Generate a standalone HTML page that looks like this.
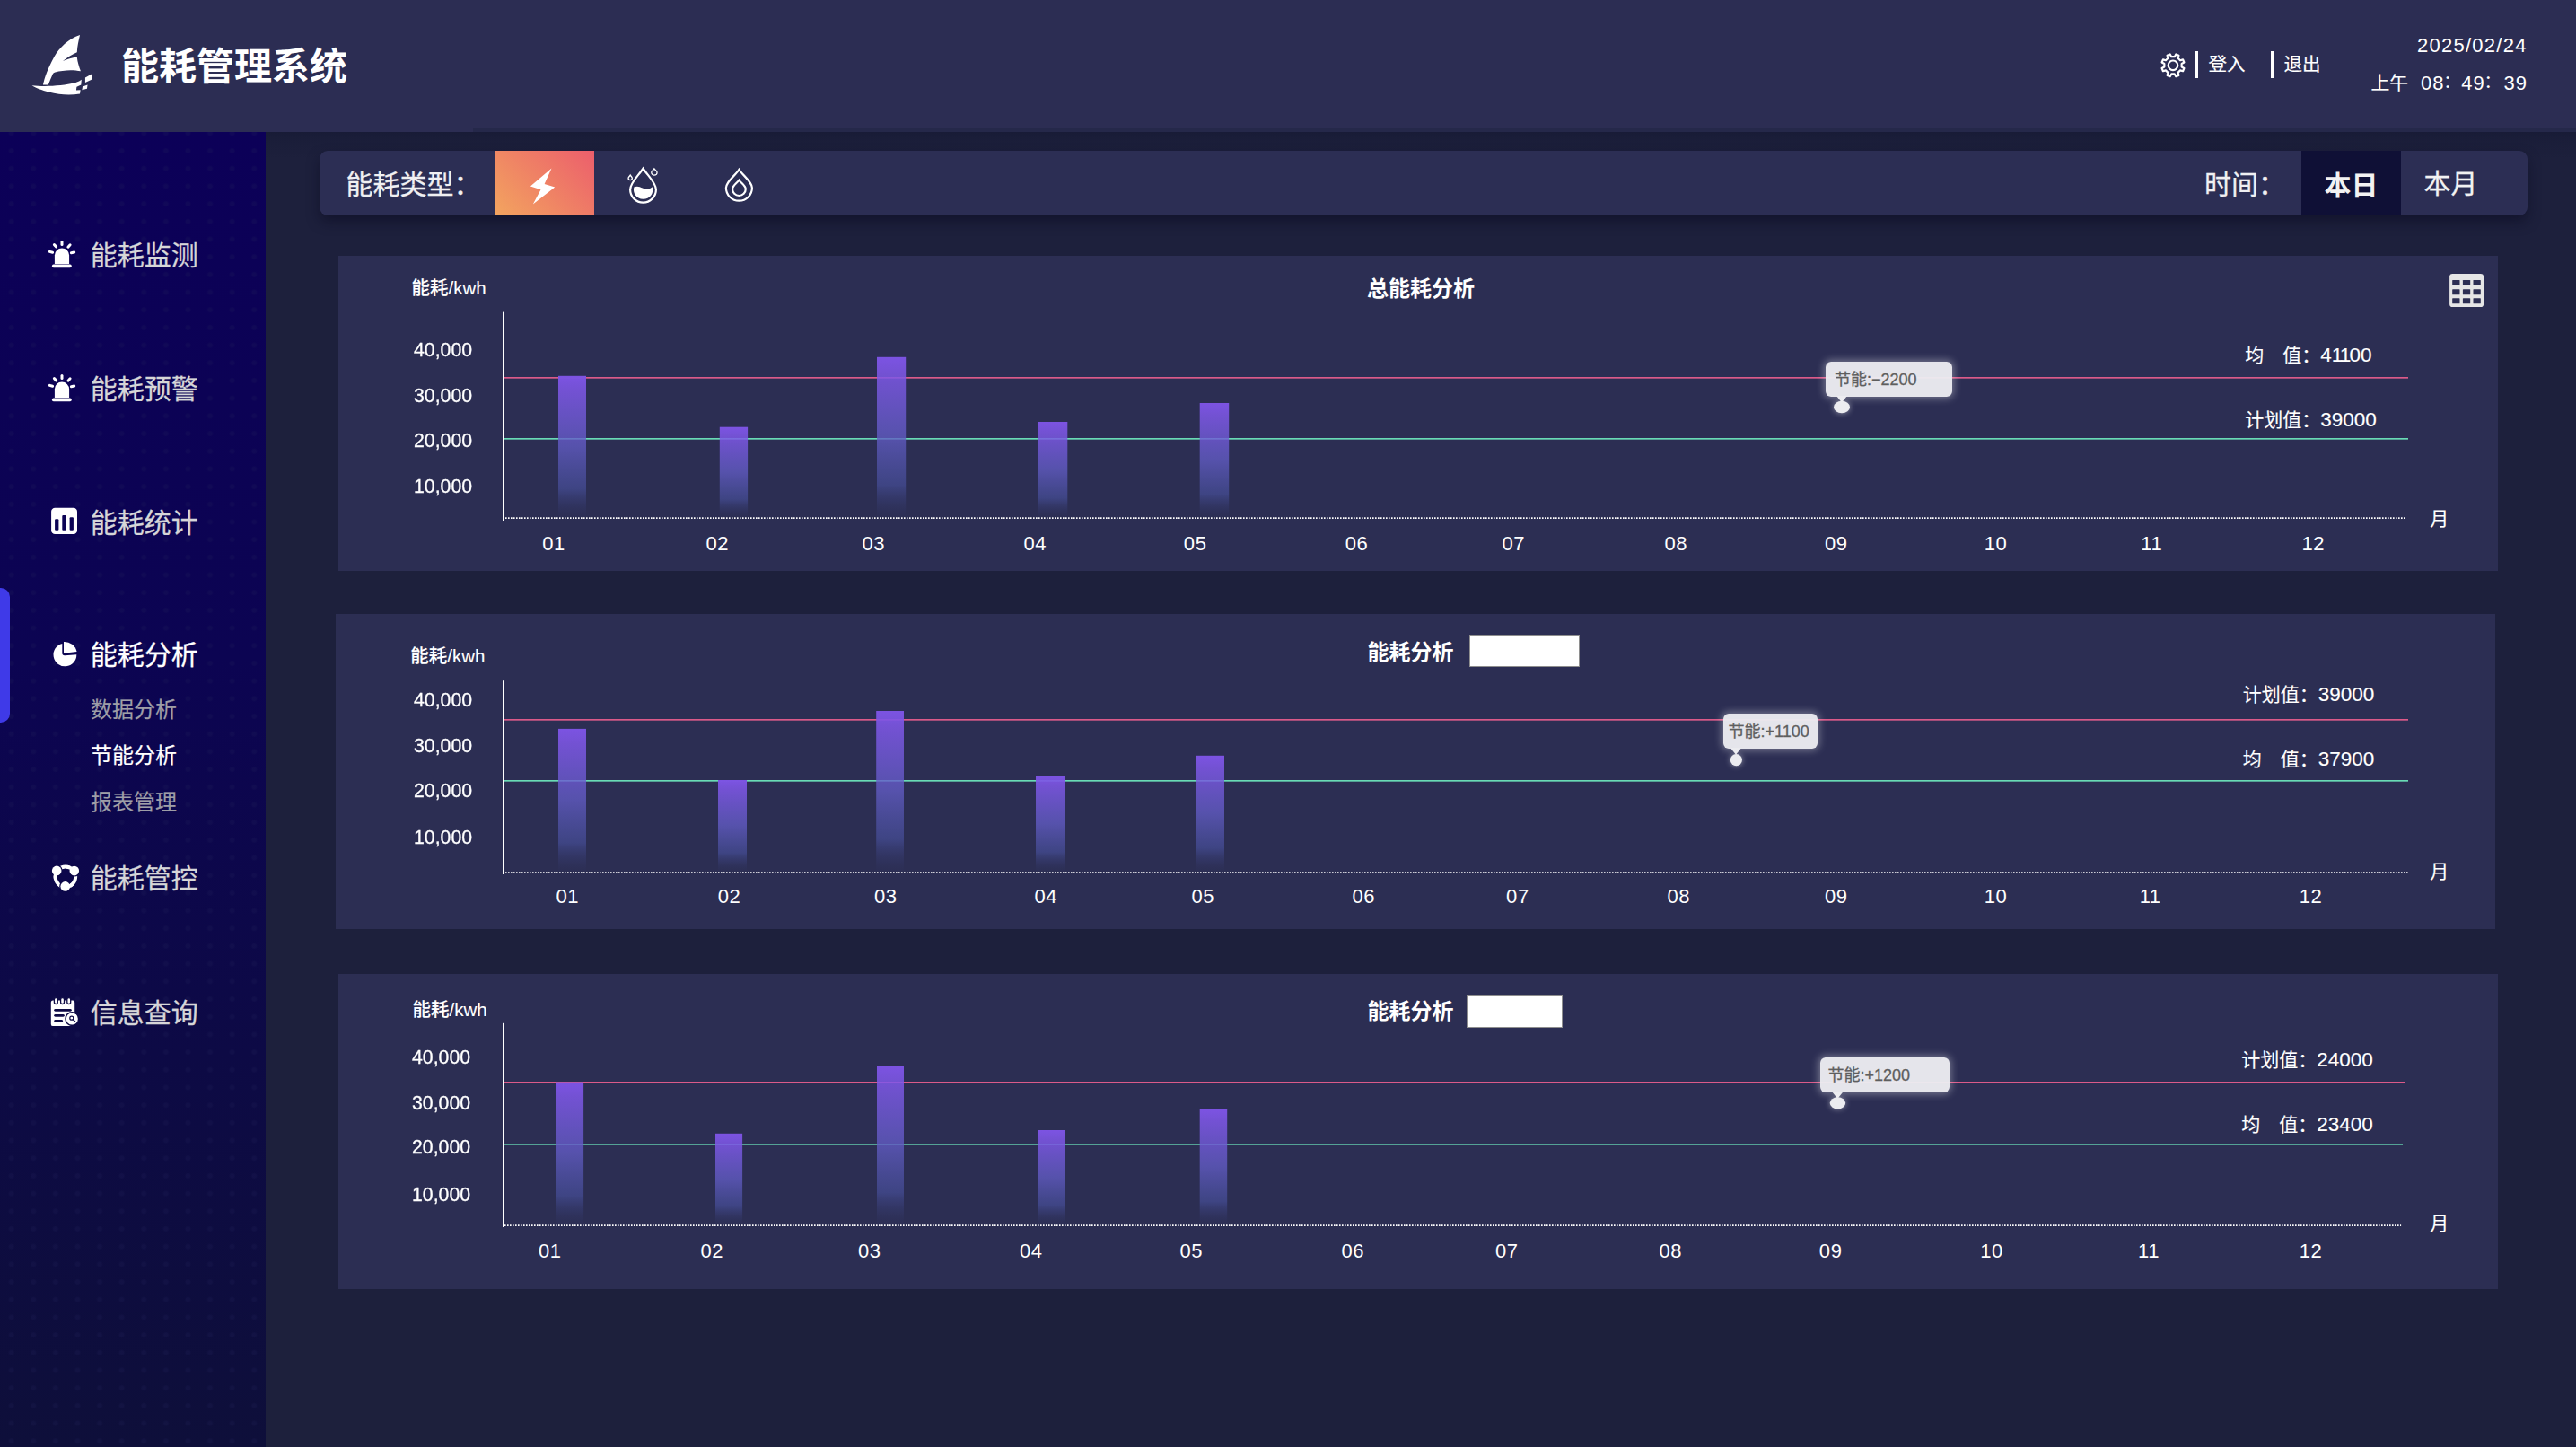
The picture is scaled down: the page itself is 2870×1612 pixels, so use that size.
<!DOCTYPE html>
<html lang="zh-CN">
<head>
<meta charset="utf-8">
<title>能耗管理系统</title>
<style>
html,body{margin:0;padding:0;}
body{width:2870px;height:1612px;position:relative;overflow:hidden;background:#1d203c;font-family:"Liberation Sans","Noto Sans CJK SC",sans-serif;}
.t{position:absolute;white-space:nowrap;margin:0;padding:0;}
.abs{position:absolute;}
#hdr{position:absolute;left:0;top:0;width:2870px;height:147px;background:#2c2d53;}
#hstrip{position:absolute;left:527px;top:143.3px;width:2343px;height:3.7px;background:#25284a;}
#hshadow{position:absolute;left:296px;top:147px;width:2574px;height:30px;background:linear-gradient(180deg,rgba(14,18,44,.34) 0,rgba(14,18,44,.16) 35%,rgba(14,18,44,0) 100%);}
#side{position:absolute;left:0;top:147px;width:296px;height:1465px;background:linear-gradient(180deg,#0c0058 0%,#0c0452 40%,#0d0a45 70%,#0e0f3a 100%);overflow:hidden;}
#dots{position:absolute;left:0;top:0;width:296px;height:1465px;opacity:.22;background-image:radial-gradient(circle,#23245c 0,#23245c 2.2px,rgba(35,36,92,0) 3.6px);background-size:24.6px 19.7px;background-position:0.4px -8.5px;}
#act{position:absolute;left:0;top:655px;width:11px;height:150px;background:#3f3ae8;border-radius:0 10px 10px 0;}
#fbar{position:absolute;left:356px;top:168px;width:2460px;height:72px;background:#2c2e54;border-radius:9px;box-shadow:0 7px 14px 0 rgba(10,10,32,.5);}
#fon{position:absolute;left:551px;top:168px;width:111px;height:72px;background:linear-gradient(45deg,#f3a55f 0%,#ef8165 50%,#ec5e6c 100%);}
#today{position:absolute;left:2564px;top:168px;width:111px;height:72px;background:#0f1036;}
.panel{position:absolute;background:#2c2e53;}
svg{position:absolute;overflow:visible;}
.tip{position:absolute;background:rgba(236,236,240,.965);border-radius:6px;box-shadow:0 0 9px 2px rgba(255,255,255,.35);}
.n{font-size:22.5px;}
.fc{font-size:19px;letter-spacing:0;position:relative;top:-1.3px;left:-1px;}
.k{letter-spacing:-1.8px;}
.wbox{position:absolute;background:#fff;border:1px solid #8e8e8e;box-sizing:border-box;}
</style>
</head>
<body>

<div id="hdr"></div><div id="hstrip"></div><div id="hshadow"></div>
<svg style="left:25px;top:30px" width="90" height="85" viewBox="0 0 1532 1447">
<path fill="#fff" d="M1090 155 C1065 260 1040 370 1035 480 C940 520 850 580 765 645 C850 610 940 585 1035 575 C1045 670 1075 760 1105 840 C950 805 760 820 620 860 C590 870 580 885 575 895 C545 960 515 1030 490 1100 L390 1100 C420 960 480 790 600 570 C700 400 880 215 1090 155 Z"/>
<path fill="#fff" d="M180 1110 C420 1135 760 1120 1000 1060 C1060 1040 1100 1015 1120 1000 L1112 1100 L1028 1135 L1020 1200 L1100 1195 L1090 1270 C900 1300 700 1290 500 1235 C370 1200 250 1155 180 1110 Z"/>
<path fill="#fff" d="M1190 960 L1320 890 L1310 1000 L1190 1055 Z"/>
<path fill="#fff" d="M1140 1130 L1235 1100 L1225 1170 L1130 1195 Z"/>
</svg>
<div class="t" style="top:49.5px;font-size:42px;line-height:50px;color:#fff;font-weight:700;left:135.0px;">能耗管理系统</div>
<svg style="left:2400px;top:52px" width="42" height="42" viewBox="0 0 42 42">
<path d="M30.58 18.74 L33.69 19.10 L33.69 22.50 L30.58 22.86 L29.23 26.12 L31.18 28.57 L28.77 30.98 L26.32 29.03 L23.06 30.38 L22.70 33.49 L19.30 33.49 L18.94 30.38 L15.68 29.03 L13.23 30.98 L10.82 28.57 L12.77 26.12 L11.42 22.86 L8.31 22.50 L8.31 19.10 L11.42 18.74 L12.77 15.48 L10.82 13.03 L13.23 10.62 L15.68 12.57 L18.94 11.22 L19.30 8.11 L22.70 8.11 L23.06 11.22 L26.32 12.57 L28.77 10.62 L31.18 13.03 L29.23 15.48Z" fill="none" stroke="#fff" stroke-width="2.2" stroke-linejoin="round" transform="rotate(22.5 21 20.8)"/>
<circle cx="21" cy="20.8" r="5.3" fill="none" stroke="#fff" stroke-width="2.2"/>
</svg>
<div class="abs" style="left:2446px;top:57px;width:3px;height:30px;background:#fff"></div>
<div class="t" style="top:59.2px;font-size:20.5px;line-height:25px;color:#fff;-webkit-text-stroke:0.2px #fff;left:2460.5px;">登入</div>
<div class="abs" style="left:2530px;top:57px;width:3px;height:30px;background:#fff"></div>
<div class="t" style="top:59.2px;font-size:20.5px;line-height:25px;color:#fff;-webkit-text-stroke:0.2px #fff;left:2544.5px;">退出</div>
<div class="t" style="top:38.2px;font-size:22px;line-height:26px;color:#fff;letter-spacing:1.27px;left:2215.7px;width:600px;text-align:right;">2025/02/24</div>
<div class="t" style="top:80.0px;font-size:20.8px;line-height:25px;color:#fff;-webkit-text-stroke:0.15px #fff;left:2641.5px;">上午</div>
<div class="t" style="top:79.5px;font-size:22px;line-height:26px;color:#fff;letter-spacing:0.9px;left:2697.0px;">08<span class="fc">：</span></div>
<div class="t" style="top:79.5px;font-size:22px;line-height:26px;color:#fff;letter-spacing:0.9px;left:2742.3px;">49<span class="fc">：</span></div>
<div class="t" style="top:79.5px;font-size:22px;line-height:26px;color:#fff;letter-spacing:0.9px;left:2789.5px;">39</div>
<div id="side"><div id="dots"></div></div>
<div id="act"></div>
<svg style="left:45px;top:255px" width="60" height="55" viewBox="0 0 60 55">
<path fill="#fff" d="M15.9 38.9 V29.6 a8.1 8.1 0 0 1 16.2 0 V38.9 Z"/>
<rect x="12.9" y="39.6" width="21.9" height="3.6" rx="1.8" fill="#fff"/>
<g stroke="#fff" stroke-width="3" stroke-linecap="round">
<line x1="24" y1="14.5" x2="24" y2="17.6"/>
<line x1="15.4" y1="17.6" x2="17.6" y2="19.9"/>
<line x1="33.1" y1="17.8" x2="30.9" y2="20.2"/>
<line x1="10.4" y1="25.4" x2="13.6" y2="26.3"/>
<line x1="37.7" y1="26" x2="34.4" y2="26.7"/>
</g></svg>
<div class="t" style="top:267.2px;font-size:30px;line-height:36px;color:#d6d6d8;-webkit-text-stroke:0.28px #d6d6d8;left:100.8px;">能耗监测</div>
<svg style="left:45px;top:404px" width="60" height="55" viewBox="0 0 60 55">
<path fill="#fff" d="M15.9 38.9 V29.6 a8.1 8.1 0 0 1 16.2 0 V38.9 Z"/>
<rect x="12.9" y="39.6" width="21.9" height="3.6" rx="1.8" fill="#fff"/>
<g stroke="#fff" stroke-width="3" stroke-linecap="round">
<line x1="24" y1="14.5" x2="24" y2="17.6"/>
<line x1="15.4" y1="17.6" x2="17.6" y2="19.9"/>
<line x1="33.1" y1="17.8" x2="30.9" y2="20.2"/>
<line x1="10.4" y1="25.4" x2="13.6" y2="26.3"/>
<line x1="37.7" y1="26" x2="34.4" y2="26.7"/>
</g></svg>
<div class="t" style="top:416.0px;font-size:30px;line-height:36px;color:#d6d6d8;-webkit-text-stroke:0.28px #d6d6d8;left:100.8px;">能耗预警</div>
<svg style="left:45px;top:555px" width="60" height="55" viewBox="0 0 60 55">
<rect x="12.1" y="10.8" width="28.9" height="29.3" rx="4.2" fill="#fff"/>
<g fill="#0c0355">
<rect x="16.1" y="23.3" width="4.3" height="12.5" rx="1"/>
<rect x="24.3" y="19.1" width="4.3" height="16.7" rx="1"/>
<rect x="32.6" y="21.2" width="4.3" height="14.6" rx="1"/>
</g></svg>
<div class="t" style="top:565.3px;font-size:30px;line-height:36px;color:#d6d6d8;-webkit-text-stroke:0.28px #d6d6d8;left:100.8px;">能耗统计</div>
<svg style="left:45px;top:700px" width="60" height="55" viewBox="0 0 60 55">
<path fill="#fff" d="M24.3 16.9 A12.9 12.9 0 1 0 40.3 29.2 L27.2 30.2 Q24.3 30.3 24.3 27.6 Z"/>
<path fill="#fff" d="M26 15 A14.2 14.2 0 0 1 40.6 25.9 L26 27.8 Z"/>
</svg>
<div class="t" style="top:712.3px;font-size:30px;line-height:36px;color:#fff;-webkit-text-stroke:0.28px #fff;left:100.8px;">能耗分析</div>
<div class="t" style="top:775.8px;font-size:24px;line-height:29px;color:#9e9ea7;-webkit-text-stroke:0.2px #9e9ea7;left:100.9px;">数据分析</div>
<div class="t" style="top:826.8px;font-size:24px;line-height:29px;color:#fff;-webkit-text-stroke:0.2px #fff;left:100.9px;">节能分析</div>
<div class="t" style="top:878.8px;font-size:24px;line-height:29px;color:#9e9ea7;-webkit-text-stroke:0.2px #9e9ea7;left:100.9px;">报表管理</div>
<svg style="left:45px;top:950px" width="60" height="55" viewBox="0 0 60 55"><circle cx="27.9" cy="26.8" r="11.3" fill="none" stroke="#fff" stroke-width="3.9"/><circle cx="18.2" cy="19.9" r="6.5" fill="#0d0848"/><circle cx="37.8" cy="20.1" r="6.5" fill="#0d0848"/><circle cx="27.7" cy="37.4" r="6.5" fill="#0d0848"/><circle cx="18.2" cy="19.9" r="5.3" fill="#fff"/><path d="M16.87 29.26 A11.3 11.3 0 0 1 18.69 20.25" fill="none" stroke="#fff" stroke-width="3.9"/><circle cx="37.8" cy="20.1" r="5.3" fill="#fff"/><path d="M29.46 15.61 A11.3 11.3 0 0 1 37.26 20.47" fill="none" stroke="#fff" stroke-width="3.9"/><circle cx="27.7" cy="37.4" r="5.3" fill="#fff"/><path d="M36.15 34.52 A11.3 11.3 0 0 1 27.69 38.10" fill="none" stroke="#fff" stroke-width="3.9"/></svg>
<div class="t" style="top:960.8px;font-size:30px;line-height:36px;color:#d6d6d8;-webkit-text-stroke:0.28px #d6d6d8;left:100.8px;">能耗管控</div>
<svg style="left:45px;top:1100px" width="60" height="55" viewBox="0 0 60 55">
<rect x="11.8" y="14.6" width="26.4" height="28.5" rx="2.2" fill="#fff"/>
<g fill="#fff" stroke="#0e0a45" stroke-width="1.3">
<rect x="15.4" y="11.6" width="3.9" height="6.9" rx="1.95"/>
<rect x="22.6" y="11.6" width="3.9" height="6.9" rx="1.95"/>
<rect x="29.8" y="11.6" width="3.9" height="6.9" rx="1.95"/>
</g>
<g stroke="#0e0a45" stroke-width="2.7" stroke-linecap="round">
<line x1="16.6" y1="25.3" x2="33.4" y2="25.3"/>
<line x1="16.6" y1="31.3" x2="25.4" y2="31.3"/>
<line x1="16.6" y1="37.4" x2="23.7" y2="37.4"/>
</g>
<path d="M35.3 35 L39 35 L39 44 L33 44 Z" fill="#0e0a46"/>
<circle cx="35.3" cy="35" r="7.3" fill="#fff" stroke="#0e0a45" stroke-width="1.5"/>
<circle cx="34.8" cy="34.2" r="2" fill="none" stroke="#0e0a45" stroke-width="1.2"/>
<line x1="36.3" y1="35.7" x2="38.7" y2="38" stroke="#0e0a45" stroke-width="1.3" stroke-linecap="round"/>
</svg>
<div class="t" style="top:1110.8px;font-size:30px;line-height:36px;color:#d6d6d8;-webkit-text-stroke:0.28px #d6d6d8;left:100.8px;">信息查询</div>
<div id="fbar"></div><div id="fon"></div><div id="today"></div>
<div class="t" style="top:187.5px;font-size:30px;line-height:36px;color:#f0f0f2;-webkit-text-stroke:0.28px #f0f0f2;left:385.5px;">能耗类型：</div>
<svg style="left:551px;top:168px" width="340" height="72" viewBox="551 168 340 72">
<path fill="#fff" d="M614.5 187.5 L606.6 204.9 L618.2 208.4 L593.8 227.6 L602.5 211.3 L590.9 207.5 Z"/>
<g fill="none" stroke="#fff">
<path stroke-width="2.2" d="M716.5 187.6 C712 195 702.1 203.5 702.1 211.2 A14.4 14.4 0 0 0 730.9 211.2 C730.9 203.5 721 195 716.5 187.6 Z"/>
<path stroke-width="1.3" d="M728.9 187.9 C727.8 189.7 725.75 190.6 725.75 192.05 A3.15 3.15 0 0 0 732.05 192.05 C732.05 190.6 730 189.7 728.9 187.9 Z"/>
<path stroke-width="1.3" d="M702.2 195.1 C701.4 196.5 700.05 197.3 700.05 198.45 A2.15 2.15 0 0 0 704.35 198.45 C704.35 197.3 703 196.5 702.2 195.1 Z"/>
<path stroke-width="2.2" d="M823.4 188.9 C819 196 808.9 202.2 808.9 209.2 A14.5 14.5 0 0 0 837.9 209.2 C837.9 202.2 827.8 196 823.4 188.9 Z"/>
<path stroke-width="2.2" d="M823.4 200.6 C821 204 816 207 816 210.6 A7.4 7.4 0 0 0 830.8 210.6 C830.8 207 825.8 204 823.4 200.6 Z"/>
</g>
<path fill="#fff" d="M706.3 208.6 C709 206.9 712.5 207.6 716 209.6 C719.5 211.6 723.5 211 727 208.2 C728.8 215.2 724 221.8 716.6 221.8 C709 221.8 704.6 215.2 706.3 208.6 Z"/>
</svg>
<div class="t" style="top:188.0px;font-size:30px;line-height:36px;color:#f0f0f2;-webkit-text-stroke:0.28px #f0f0f2;left:2456.0px;">时间：</div>
<div class="t" style="top:188.5px;font-size:30px;line-height:36px;color:#f2f2f2;font-weight:700;left:2589.5px;">本日</div>
<div class="t" style="top:186.8px;font-size:30px;line-height:36px;color:#f2f2f2;-webkit-text-stroke:0.28px #f2f2f2;left:2700.5px;">本月</div>
<svg width="0" height="0" style="left:0;top:0"><defs>
<linearGradient id="bg" x1="0" y1="0" x2="0" y2="1"><stop offset="0" stop-color="#7c53e2"/><stop offset="0.1" stop-color="#8058ea" stop-opacity="0.85"/><stop offset="0.5" stop-color="#625cc5" stop-opacity="0.78"/><stop offset="0.8" stop-color="#464e98" stop-opacity="0.7"/><stop offset="1" stop-color="#2f3360" stop-opacity="0.12"/></linearGradient>
</defs></svg>
<div class="panel" style="left:377px;top:285px;width:2406px;height:351px"></div>
<svg style="left:0;top:0" width="2870" height="1612" viewBox="0 0 2870 1612">
<defs></defs>
<rect x="562" y="420.1" width="2121.0" height="1.5" fill="#f06090"/>
<rect x="562" y="488.1" width="2121.0" height="1.5" fill="#70efc0"/>
<rect x="622" y="418.8" width="31.0" height="157.2" fill="url(#bg)"/>
<rect x="801.8" y="475.7" width="31.3" height="100.3" fill="url(#bg)"/>
<rect x="977" y="397.8" width="32.2" height="178.2" fill="url(#bg)"/>
<rect x="1156.9" y="470" width="32.4" height="106.0" fill="url(#bg)"/>
<rect x="1336.7" y="449" width="32.5" height="127.0" fill="url(#bg)"/>
<rect x="560" y="347.6" width="1.75" height="232.4" fill="#fff"/>
<line x1="563" y1="577" x2="2680" y2="577" stroke="#fff" stroke-width="1.75" stroke-dasharray="1.6 1.4"/>
</svg>
<div class="t" style="top:376.8px;font-size:22px;line-height:26px;color:#fff;left:-74.5px;width:600px;text-align:right;transform:scaleX(.965);transform-origin:100% 50%;-webkit-text-stroke:0.3px #fff;">40,000</div>
<div class="t" style="top:428.0px;font-size:22px;line-height:26px;color:#fff;left:-74.5px;width:600px;text-align:right;transform:scaleX(.965);transform-origin:100% 50%;-webkit-text-stroke:0.3px #fff;">30,000</div>
<div class="t" style="top:478.2px;font-size:22px;line-height:26px;color:#fff;left:-74.5px;width:600px;text-align:right;transform:scaleX(.965);transform-origin:100% 50%;-webkit-text-stroke:0.3px #fff;">20,000</div>
<div class="t" style="top:529.3px;font-size:22px;line-height:26px;color:#fff;left:-74.5px;width:600px;text-align:right;transform:scaleX(.965);transform-origin:100% 50%;-webkit-text-stroke:0.3px #fff;">10,000</div>
<div class="t" style="top:308.0px;font-size:20.5px;line-height:25px;color:#fff;font-weight:500;-webkit-text-stroke:0.1px #fff;left:458.5px;">能耗/kwh</div>
<div class="t" style="top:592.8px;font-size:22px;line-height:26px;color:#fff;letter-spacing:0.6px;left:317.1px;width:600px;text-align:center;">01</div>
<div class="t" style="top:592.8px;font-size:22px;line-height:26px;color:#fff;letter-spacing:0.6px;left:499.3px;width:600px;text-align:center;">02</div>
<div class="t" style="top:592.8px;font-size:22px;line-height:26px;color:#fff;letter-spacing:0.6px;left:673.3px;width:600px;text-align:center;">03</div>
<div class="t" style="top:592.8px;font-size:22px;line-height:26px;color:#fff;letter-spacing:0.6px;left:853.3px;width:600px;text-align:center;">04</div>
<div class="t" style="top:592.8px;font-size:22px;line-height:26px;color:#fff;letter-spacing:0.6px;left:1031.7px;width:600px;text-align:center;">05</div>
<div class="t" style="top:592.8px;font-size:22px;line-height:26px;color:#fff;letter-spacing:0.6px;left:1211.5px;width:600px;text-align:center;">06</div>
<div class="t" style="top:592.8px;font-size:22px;line-height:26px;color:#fff;letter-spacing:0.6px;left:1386.3px;width:600px;text-align:center;">07</div>
<div class="t" style="top:592.8px;font-size:22px;line-height:26px;color:#fff;letter-spacing:0.6px;left:1567.3px;width:600px;text-align:center;">08</div>
<div class="t" style="top:592.8px;font-size:22px;line-height:26px;color:#fff;letter-spacing:0.6px;left:1745.8px;width:600px;text-align:center;">09</div>
<div class="t" style="top:592.8px;font-size:22px;line-height:26px;color:#fff;letter-spacing:0.6px;left:1923.6px;width:600px;text-align:center;">10</div>
<div class="t" style="top:592.8px;font-size:22px;line-height:26px;color:#fff;letter-spacing:0.6px;left:2097.3px;width:600px;text-align:center;">11</div>
<div class="t" style="top:592.8px;font-size:22px;line-height:26px;color:#fff;letter-spacing:0.6px;left:2277.3px;width:600px;text-align:center;">12</div>
<div class="t" style="top:564.6px;font-size:21px;line-height:25px;color:#fff;-webkit-text-stroke:0.15px #fff;left:2707.3px;">月</div>
<div class="t" style="top:307.0px;font-size:24px;line-height:29px;color:#fff;font-weight:700;left:1523.0px;">总能耗分析</div>
<div class="t" style="top:383.1px;font-size:21px;line-height:25px;color:#fff;-webkit-text-stroke:0.15px #fff;left:2501.3px;">均　值：<span class="n">4<span class="k">11</span>00</span></div>
<div class="t" style="top:455.2px;font-size:21px;line-height:25px;color:#fff;-webkit-text-stroke:0.15px #fff;left:2501.3px;">计划值：<span class="n">39000</span></div>
<div class="tip" style="left:2033.5px;top:402.5px;width:141px;height:39px"></div>
<svg style="left:0;top:0" width="2870" height="1612" viewBox="0 0 2870 1612"><path d="M2046 441.0 L2058 441.0 L2052 448.5 Z" fill="#ececf0"/><ellipse cx="2052.0" cy="453.45" rx="9.0" ry="6.75" fill="#ececf0" style="filter:drop-shadow(0 0 3px rgba(255,255,255,.5))"/></svg>
<div class="t" style="top:411.5px;font-size:18px;line-height:22px;color:#5e5e5e;left:2044.0px;-webkit-text-stroke:0.3px #5e5e5e;">节能:−2200</div>
<svg style="left:2715px;top:295px" width="70" height="60" viewBox="0 0 70 60">
<rect x="14.1" y="10" width="38" height="37.1" rx="3.4" fill="#e6e6e6"/>
<g fill="#2c2e53"><rect x="17.2" y="17.0" width="8.3" height="6.1" rx="0.6"/><rect x="28.9" y="17.0" width="8.3" height="6.1" rx="0.6"/><rect x="40.5" y="17.0" width="8.3" height="6.1" rx="0.6"/><rect x="17.2" y="27.2" width="8.3" height="6.1" rx="0.6"/><rect x="28.9" y="27.2" width="8.3" height="6.1" rx="0.6"/><rect x="40.5" y="27.2" width="8.3" height="6.1" rx="0.6"/><rect x="17.2" y="37.2" width="8.3" height="6.1" rx="0.6"/><rect x="28.9" y="37.2" width="8.3" height="6.1" rx="0.6"/><rect x="40.5" y="37.2" width="8.3" height="6.1" rx="0.6"/></g></svg>
<div class="panel" style="left:374px;top:684px;width:2406px;height:351px"></div>
<svg style="left:0;top:0" width="2870" height="1612" viewBox="0 0 2870 1612">
<defs></defs>
<rect x="562" y="801.1" width="2121.0" height="1.5" fill="#f06090"/>
<rect x="562" y="869.1" width="2121.0" height="1.5" fill="#70efc0"/>
<rect x="622" y="811.9" width="31.0" height="158.6" fill="url(#bg)"/>
<rect x="800" y="869" width="32.0" height="101.5" fill="url(#bg)"/>
<rect x="976.2" y="792" width="30.8" height="178.5" fill="url(#bg)"/>
<rect x="1154" y="864.2" width="32.2" height="106.3" fill="url(#bg)"/>
<rect x="1333" y="841.8" width="31.0" height="128.7" fill="url(#bg)"/>
<rect x="560" y="758.2" width="1.75" height="215.8" fill="#fff"/>
<line x1="563" y1="972" x2="2682.7" y2="972" stroke="#fff" stroke-width="1.75" stroke-dasharray="1.6 1.4"/>
</svg>
<div class="t" style="top:766.7px;font-size:22px;line-height:26px;color:#fff;left:-74.5px;width:600px;text-align:right;transform:scaleX(.965);transform-origin:100% 50%;-webkit-text-stroke:0.3px #fff;">40,000</div>
<div class="t" style="top:817.9px;font-size:22px;line-height:26px;color:#fff;left:-74.5px;width:600px;text-align:right;transform:scaleX(.965);transform-origin:100% 50%;-webkit-text-stroke:0.3px #fff;">30,000</div>
<div class="t" style="top:868.1px;font-size:22px;line-height:26px;color:#fff;left:-74.5px;width:600px;text-align:right;transform:scaleX(.965);transform-origin:100% 50%;-webkit-text-stroke:0.3px #fff;">20,000</div>
<div class="t" style="top:919.9px;font-size:22px;line-height:26px;color:#fff;left:-74.5px;width:600px;text-align:right;transform:scaleX(.965);transform-origin:100% 50%;-webkit-text-stroke:0.3px #fff;">10,000</div>
<div class="t" style="top:717.5px;font-size:20.5px;line-height:25px;color:#fff;font-weight:500;-webkit-text-stroke:0.1px #fff;left:457.2px;">能耗/kwh</div>
<div class="t" style="top:986.3px;font-size:22px;line-height:26px;color:#fff;letter-spacing:0.6px;left:332.3px;width:600px;text-align:center;">01</div>
<div class="t" style="top:986.3px;font-size:22px;line-height:26px;color:#fff;letter-spacing:0.6px;left:512.6px;width:600px;text-align:center;">02</div>
<div class="t" style="top:986.3px;font-size:22px;line-height:26px;color:#fff;letter-spacing:0.6px;left:686.8px;width:600px;text-align:center;">03</div>
<div class="t" style="top:986.3px;font-size:22px;line-height:26px;color:#fff;letter-spacing:0.6px;left:865.3px;width:600px;text-align:center;">04</div>
<div class="t" style="top:986.3px;font-size:22px;line-height:26px;color:#fff;letter-spacing:0.6px;left:1040.3px;width:600px;text-align:center;">05</div>
<div class="t" style="top:986.3px;font-size:22px;line-height:26px;color:#fff;letter-spacing:0.6px;left:1219.3px;width:600px;text-align:center;">06</div>
<div class="t" style="top:986.3px;font-size:22px;line-height:26px;color:#fff;letter-spacing:0.6px;left:1390.9px;width:600px;text-align:center;">07</div>
<div class="t" style="top:986.3px;font-size:22px;line-height:26px;color:#fff;letter-spacing:0.6px;left:1570.3px;width:600px;text-align:center;">08</div>
<div class="t" style="top:986.3px;font-size:22px;line-height:26px;color:#fff;letter-spacing:0.6px;left:1745.8px;width:600px;text-align:center;">09</div>
<div class="t" style="top:986.3px;font-size:22px;line-height:26px;color:#fff;letter-spacing:0.6px;left:1923.6px;width:600px;text-align:center;">10</div>
<div class="t" style="top:986.3px;font-size:22px;line-height:26px;color:#fff;letter-spacing:0.6px;left:2095.7px;width:600px;text-align:center;">11</div>
<div class="t" style="top:986.3px;font-size:22px;line-height:26px;color:#fff;letter-spacing:0.6px;left:2274.5px;width:600px;text-align:center;">12</div>
<div class="t" style="top:958.1px;font-size:21px;line-height:25px;color:#fff;-webkit-text-stroke:0.15px #fff;left:2707.3px;">月</div>
<div class="t" style="top:712.0px;font-size:24px;line-height:29px;color:#fff;font-weight:700;left:1523.5px;">能耗分析</div>
<div class="wbox" style="left:1637px;top:707px;width:123px;height:36px"></div>
<div class="t" style="top:761.0px;font-size:21px;line-height:25px;color:#fff;-webkit-text-stroke:0.15px #fff;left:2498.8px;">计划值：<span class="n">39000</span></div>
<div class="t" style="top:833.1px;font-size:21px;line-height:25px;color:#fff;-webkit-text-stroke:0.15px #fff;left:2498.8px;">均　值：<span class="n">37900</span></div>
<div class="tip" style="left:1919.5px;top:794.8px;width:105px;height:39px"></div>
<svg style="left:0;top:0" width="2870" height="1612" viewBox="0 0 2870 1612"><path d="M1928 833.3 L1940 833.3 L1934 840.8 Z" fill="#ececf0"/><ellipse cx="1934.3999999999999" cy="846.6" rx="6.6" ry="6.6" fill="#ececf0" style="filter:drop-shadow(0 0 3px rgba(255,255,255,.5))"/></svg>
<div class="t" style="top:803.8px;font-size:18px;line-height:22px;color:#5e5e5e;left:1925.5px;-webkit-text-stroke:0.3px #5e5e5e;">节能:+1100</div>
<div class="panel" style="left:377px;top:1085px;width:2406px;height:351px"></div>
<svg style="left:0;top:0" width="2870" height="1612" viewBox="0 0 2870 1612">
<defs></defs>
<rect x="562" y="1205.1" width="2118.0" height="1.5" fill="#f06090"/>
<rect x="562" y="1274.1" width="2115.0" height="1.5" fill="#70efc0"/>
<rect x="620" y="1205.6" width="30.1" height="158.4" fill="url(#bg)"/>
<rect x="797" y="1262.8" width="30.1" height="101.2" fill="url(#bg)"/>
<rect x="977" y="1187" width="30.0" height="177.0" fill="url(#bg)"/>
<rect x="1156.9" y="1259" width="30.1" height="105.0" fill="url(#bg)"/>
<rect x="1336.7" y="1236" width="30.5" height="128.0" fill="url(#bg)"/>
<rect x="560" y="1139.8" width="1.75" height="227.2" fill="#fff"/>
<line x1="562" y1="1365" x2="2675.1" y2="1365" stroke="#fff" stroke-width="1.75" stroke-dasharray="1.6 1.4"/>
</svg>
<div class="t" style="top:1165.3px;font-size:22px;line-height:26px;color:#fff;left:-75.8px;width:600px;text-align:right;transform:scaleX(.965);transform-origin:100% 50%;-webkit-text-stroke:0.3px #fff;">40,000</div>
<div class="t" style="top:1215.9px;font-size:22px;line-height:26px;color:#fff;left:-75.8px;width:600px;text-align:right;transform:scaleX(.965);transform-origin:100% 50%;-webkit-text-stroke:0.3px #fff;">30,000</div>
<div class="t" style="top:1265.0px;font-size:22px;line-height:26px;color:#fff;left:-75.8px;width:600px;text-align:right;transform:scaleX(.965);transform-origin:100% 50%;-webkit-text-stroke:0.3px #fff;">20,000</div>
<div class="t" style="top:1317.8px;font-size:22px;line-height:26px;color:#fff;left:-75.8px;width:600px;text-align:right;transform:scaleX(.965);transform-origin:100% 50%;-webkit-text-stroke:0.3px #fff;">10,000</div>
<div class="t" style="top:1111.5px;font-size:20.5px;line-height:25px;color:#fff;font-weight:500;-webkit-text-stroke:0.1px #fff;left:459.5px;">能耗/kwh</div>
<div class="t" style="top:1380.8px;font-size:22px;line-height:26px;color:#fff;letter-spacing:0.6px;left:312.8px;width:600px;text-align:center;">01</div>
<div class="t" style="top:1380.8px;font-size:22px;line-height:26px;color:#fff;letter-spacing:0.6px;left:493.3px;width:600px;text-align:center;">02</div>
<div class="t" style="top:1380.8px;font-size:22px;line-height:26px;color:#fff;letter-spacing:0.6px;left:668.8px;width:600px;text-align:center;">03</div>
<div class="t" style="top:1380.8px;font-size:22px;line-height:26px;color:#fff;letter-spacing:0.6px;left:848.8px;width:600px;text-align:center;">04</div>
<div class="t" style="top:1380.8px;font-size:22px;line-height:26px;color:#fff;letter-spacing:0.6px;left:1027.3px;width:600px;text-align:center;">05</div>
<div class="t" style="top:1380.8px;font-size:22px;line-height:26px;color:#fff;letter-spacing:0.6px;left:1207.3px;width:600px;text-align:center;">06</div>
<div class="t" style="top:1380.8px;font-size:22px;line-height:26px;color:#fff;letter-spacing:0.6px;left:1378.8px;width:600px;text-align:center;">07</div>
<div class="t" style="top:1380.8px;font-size:22px;line-height:26px;color:#fff;letter-spacing:0.6px;left:1561.3px;width:600px;text-align:center;">08</div>
<div class="t" style="top:1380.8px;font-size:22px;line-height:26px;color:#fff;letter-spacing:0.6px;left:1739.7px;width:600px;text-align:center;">09</div>
<div class="t" style="top:1380.8px;font-size:22px;line-height:26px;color:#fff;letter-spacing:0.6px;left:1919.0px;width:600px;text-align:center;">10</div>
<div class="t" style="top:1380.8px;font-size:22px;line-height:26px;color:#fff;letter-spacing:0.6px;left:2094.1px;width:600px;text-align:center;">11</div>
<div class="t" style="top:1380.8px;font-size:22px;line-height:26px;color:#fff;letter-spacing:0.6px;left:2274.5px;width:600px;text-align:center;">12</div>
<div class="t" style="top:1350.1px;font-size:21px;line-height:25px;color:#fff;-webkit-text-stroke:0.15px #fff;left:2707.3px;">月</div>
<div class="t" style="top:1112.0px;font-size:24px;line-height:29px;color:#fff;font-weight:700;left:1523.5px;">能耗分析</div>
<div class="wbox" style="left:1634px;top:1109px;width:107px;height:36px"></div>
<div class="t" style="top:1168.3px;font-size:21px;line-height:25px;color:#fff;-webkit-text-stroke:0.15px #fff;left:2497.3px;">计划值：<span class="n">24000</span></div>
<div class="t" style="top:1240.4px;font-size:21px;line-height:25px;color:#fff;-webkit-text-stroke:0.15px #fff;left:2497.3px;">均　值：<span class="n">23400</span></div>
<div class="tip" style="left:2027.5px;top:1178px;width:144px;height:39px"></div>
<svg style="left:0;top:0" width="2870" height="1612" viewBox="0 0 2870 1612"><path d="M2041.3 1216.5 L2053.3 1216.5 L2047.3 1224 Z" fill="#ececf0"/><ellipse cx="2047.45" cy="1228.8" rx="8.75" ry="6.5" fill="#ececf0" style="filter:drop-shadow(0 0 3px rgba(255,255,255,.5))"/></svg>
<div class="t" style="top:1187.0px;font-size:18px;line-height:22px;color:#5e5e5e;left:2036.5px;-webkit-text-stroke:0.3px #5e5e5e;">节能:+1200</div>
</body></html>
